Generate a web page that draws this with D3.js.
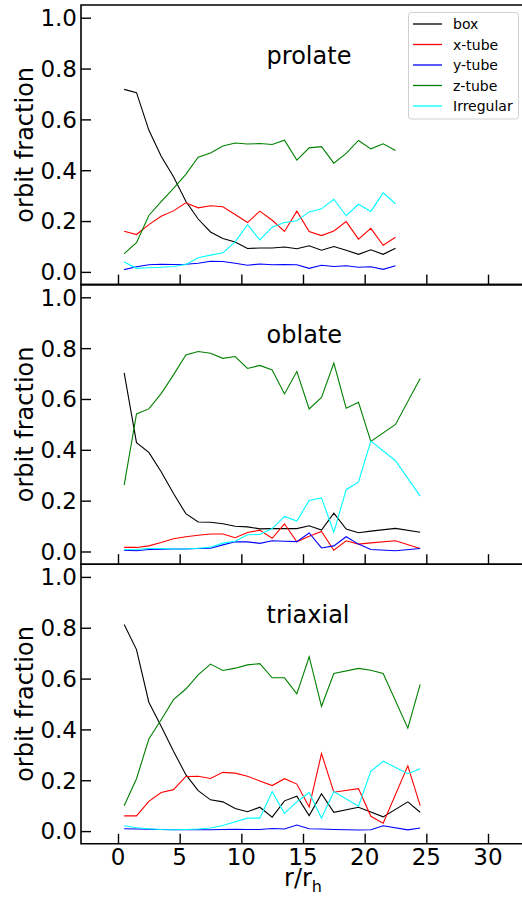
<!DOCTYPE html>
<html>
<head>
<meta charset="utf-8">
<script src="https://cdn.jsdelivr.net/npm/d3@7"></script>
<style>
  html, body { margin: 0; padding: 0; background: #fff; }
  svg { display: block; font-family: "DejaVu Sans", sans-serif; }
</style>
</head>
<body>
<svg id="chart" width="522" height="898"></svg>
<script>
// Orbit classification fractions as a function of radius, for three halo shapes.
const seriesNames = ["box", "x-tube", "y-tube", "z-tube", "Irregular"];
const seriesColors = ["#000000", "#ff0000", "#0000ff", "#008000", "#00ffff"];
const panelNames = ["prolate", "oblate", "triaxial"];

// radial bins (r / r_h)
const prolateR = [0.5, 1.5, 2.5, 3.5, 4.5, 5.5, 6.5, 7.5, 8.5, 9.5, 10.5, 11.5, 12.5, 13.5, 14.5, 15.5, 16.5, 17.5, 18.5, 19.5, 20.5, 21.5, 22.5];
const oblateR = [0.5, 1.5, 2.5, 3.5, 4.5, 5.5, 6.5, 7.5, 8.5, 9.5, 10.5, 11.5, 12.5, 13.5, 14.5, 15.5, 16.5, 17.5, 18.5, 19.5, 20.5, 22.5, 24.5];
const triaxialR = [0.5, 1.5, 2.5, 3.5, 4.5, 5.5, 6.5, 7.5, 8.5, 9.5, 10.5, 11.5, 12.5, 13.5, 14.5, 15.5, 16.5, 17.5, 19.5, 20.5, 21.5, 23.5, 24.5];

// prolate
const prolateBox = [0.718, 0.705, 0.558, 0.455, 0.374, 0.278, 0.208, 0.157, 0.131, 0.118, 0.092, 0.094, 0.094, 0.098, 0.091, 0.103, 0.085, 0.100, 0.085, 0.069, 0.087, 0.069, 0.093];
const prolateXtube = [0.160, 0.147, 0.186, 0.219, 0.240, 0.272, 0.252, 0.260, 0.256, 0.226, 0.194, 0.239, 0.203, 0.159, 0.239, 0.159, 0.143, 0.161, 0.198, 0.129, 0.171, 0.105, 0.136];
const prolateYtube = [0.009, 0.020, 0.028, 0.030, 0.029, 0.030, 0.034, 0.042, 0.041, 0.034, 0.026, 0.031, 0.028, 0.029, 0.028, 0.014, 0.026, 0.021, 0.024, 0.018, 0.020, 0.010, 0.024];
const prolateZtube = [0.072, 0.115, 0.222, 0.276, 0.329, 0.384, 0.451, 0.468, 0.495, 0.507, 0.503, 0.505, 0.501, 0.518, 0.440, 0.488, 0.493, 0.428, 0.466, 0.517, 0.484, 0.504, 0.478];
const prolateIrregular = [0.039, 0.014, 0.016, 0.018, 0.021, 0.029, 0.056, 0.066, 0.075, 0.118, 0.186, 0.126, 0.176, 0.194, 0.201, 0.236, 0.248, 0.286, 0.221, 0.266, 0.238, 0.311, 0.268];

// oblate
const oblateBox = [0.703, 0.428, 0.390, 0.314, 0.228, 0.149, 0.116, 0.115, 0.109, 0.099, 0.097, 0.089, 0.090, 0.090, 0.090, 0.101, 0.084, 0.151, 0.088, 0.074, 0.080, 0.091, 0.076];
const oblateXtube = [0.016, 0.016, 0.022, 0.035, 0.050, 0.058, 0.064, 0.069, 0.069, 0.054, 0.075, 0.084, 0.052, 0.109, 0.038, 0.060, 0.079, 0.005, 0.042, 0.029, 0.034, 0.042, 0.012];
const oblateYtube = [0.005, 0.003, 0.008, 0.009, 0.010, 0.010, 0.012, 0.013, 0.026, 0.038, 0.038, 0.032, 0.042, 0.040, 0.039, 0.073, 0.014, 0.022, 0.058, 0.029, 0.008, 0.003, 0.012];
const oblateZtube = [0.261, 0.541, 0.561, 0.621, 0.695, 0.773, 0.787, 0.780, 0.760, 0.767, 0.720, 0.732, 0.714, 0.620, 0.708, 0.561, 0.606, 0.741, 0.564, 0.587, 0.433, 0.500, 0.681];
const oblateIrregular = [0.008, 0.009, 0.012, 0.012, 0.010, 0.010, 0.013, 0.017, 0.033, 0.040, 0.066, 0.067, 0.090, 0.138, 0.120, 0.201, 0.211, 0.076, 0.243, 0.274, 0.434, 0.357, 0.218];

// triaxial
const triaxialBox = [0.813, 0.714, 0.507, 0.412, 0.314, 0.222, 0.159, 0.123, 0.115, 0.089, 0.076, 0.094, 0.055, 0.119, 0.137, 0.061, 0.147, 0.074, 0.094, 0.075, 0.056, 0.115, 0.074];
const triaxialXtube = [0.060, 0.060, 0.117, 0.152, 0.163, 0.215, 0.216, 0.207, 0.231, 0.228, 0.216, 0.197, 0.179, 0.206, 0.185, 0.095, 0.305, 0.153, 0.167, 0.058, 0.031, 0.257, 0.100];
const triaxialYtube = [0.009, 0.008, 0.007, 0.006, 0.005, 0.005, 0.005, 0.005, 0.006, 0.007, 0.006, 0.006, 0.010, 0.008, 0.024, 0.009, 0.008, 0.006, 0.004, 0.005, 0.021, 0.005, 0.012];
const triaxialZtube = [0.100, 0.206, 0.362, 0.438, 0.517, 0.559, 0.615, 0.657, 0.632, 0.641, 0.654, 0.659, 0.603, 0.603, 0.540, 0.686, 0.491, 0.620, 0.640, 0.633, 0.620, 0.405, 0.577];
const triaxialIrregular = [0.021, 0.013, 0.009, 0.006, 0.005, 0.006, 0.008, 0.012, 0.022, 0.037, 0.051, 0.051, 0.155, 0.070, 0.115, 0.152, 0.051, 0.156, 0.098, 0.235, 0.275, 0.226, 0.245];

const xTicks = [0, 5, 10, 15, 20, 25, 30];
const yTicks = [0.0, 0.2, 0.4, 0.6, 0.8, 1.0];

const panels = [
  { name: panelNames[0], r: prolateR, series: [prolateBox, prolateXtube, prolateYtube, prolateZtube, prolateIrregular] },
  { name: panelNames[1], r: oblateR, series: [oblateBox, oblateXtube, oblateYtube, oblateZtube, oblateIrregular] },
  { name: panelNames[2], r: triaxialR, series: [triaxialBox, triaxialXtube, triaxialYtube, triaxialZtube, triaxialIrregular] }
];

// layout
const svg = d3.select("#chart");
const left = 81, right = 525;
const panelTop = 5, panelH = 279.6;
const tickFont = 23, labelFont = 24;

const x = d3.scaleLinear().domain([-3, 33]).range([left, right]);

panels.forEach((p, k) => {
  const top = panelTop + k * panelH;
  const bottom = top + panelH;
  const y = d3.scaleLinear().domain([-0.05, 1.05]).range([bottom, top]);
  const g = svg.append("g");

  // data lines
  const line = d3.line().x(d => x(d[0])).y(d => y(d[1]));
  p.series.forEach((vals, i) => {
    g.append("path")
      .datum(p.r.map((r, j) => [r, vals[j]]))
      .attr("d", line)
      .attr("fill", "none")
      .attr("stroke", seriesColors[i])
      .attr("stroke-width", 1.1)
      .attr("stroke-linejoin", "miter");
  });

  // y axis: inward ticks, labels on the left
  const yAxis = d3.axisRight(y).tickValues(yTicks).tickSize(10).tickFormat("");
  const ya = g.append("g").attr("transform", `translate(${left},0)`).call(yAxis);
  ya.select(".domain").remove();
  ya.selectAll(".tick line").attr("stroke", "#000").attr("stroke-width", 1.4);
  g.selectAll(".ylab").data(yTicks).enter().append("text")
    .attr("x", left - 4)
    .attr("y", d => y(d) + 8.4)
    .attr("text-anchor", "end")
    .attr("font-size", tickFont)
    .attr("fill", "#000")
    .text(d3.format(".1f"));

  // x axis: inward ticks on each panel bottom
  const xAxis = d3.axisTop(x).tickValues(xTicks).tickSize(10).tickFormat("");
  const xa = g.append("g").attr("transform", `translate(0,${bottom})`).call(xAxis);
  xa.select(".domain").remove();
  xa.selectAll(".tick line").attr("stroke", "#000").attr("stroke-width", 1.4);

  // frame
  g.append("path")
    .attr("d", `M${right},${top}H${left}V${bottom}H${right}`)
    .attr("fill", "none")
    .attr("stroke", "#000")
    .attr("stroke-width", 1.6);

  // panel title
  g.append("text")
    .attr("x", x(12.05))
    .attr("y", top + 58.5)
    .attr("font-size", labelFont)
    .attr("fill", "#000")
    .text(p.name);

  // y label
  g.append("text")
    .attr("transform", `translate(33,${(top + bottom) / 2}) rotate(-90)`)
    .attr("text-anchor", "middle")
    .attr("font-size", labelFont)
    .attr("fill", "#000")
    .text("orbit fraction");

  // x tick labels on the bottom panel only
  if (k === panels.length - 1) {
    svg.selectAll(".xlab").data(xTicks).enter().append("text")
      .attr("x", d => x(d))
      .attr("y", bottom + 21)
      .attr("text-anchor", "middle")
      .attr("font-size", tickFont)
      .attr("fill", "#000")
      .text(d => d);

    const xl = svg.append("text")
      .attr("x", (left + right) / 2)
      .attr("y", bottom + 42)
      .attr("text-anchor", "middle")
      .attr("font-size", labelFont)
      .attr("fill", "#000");
    xl.append("tspan").text("r/r");
    xl.append("tspan").attr("font-size", 16).attr("dy", 6).text("h");
  }
});

// legend
const lg = svg.append("g");
lg.append("rect")
  .attr("x", 408.5).attr("y", 12.5).attr("width", 110).attr("height", 106.5)
  .attr("rx", 3).attr("ry", 3)
  .attr("fill", "#fff").attr("fill-opacity", 0.8)
  .attr("stroke", "#d0d0d0").attr("stroke-width", 1);
seriesNames.forEach((name, i) => {
  const cy = 24 + i * 20.5;
  lg.append("line")
    .attr("x1", 413).attr("x2", 442).attr("y1", cy).attr("y2", cy)
    .attr("stroke", seriesColors[i]).attr("stroke-width", 1.3);
  lg.append("text")
    .attr("x", 453).attr("y", cy + 5)
    .attr("font-size", 14).attr("fill", "#000")
    .text(name);
});
</script>
</body>
</html>
